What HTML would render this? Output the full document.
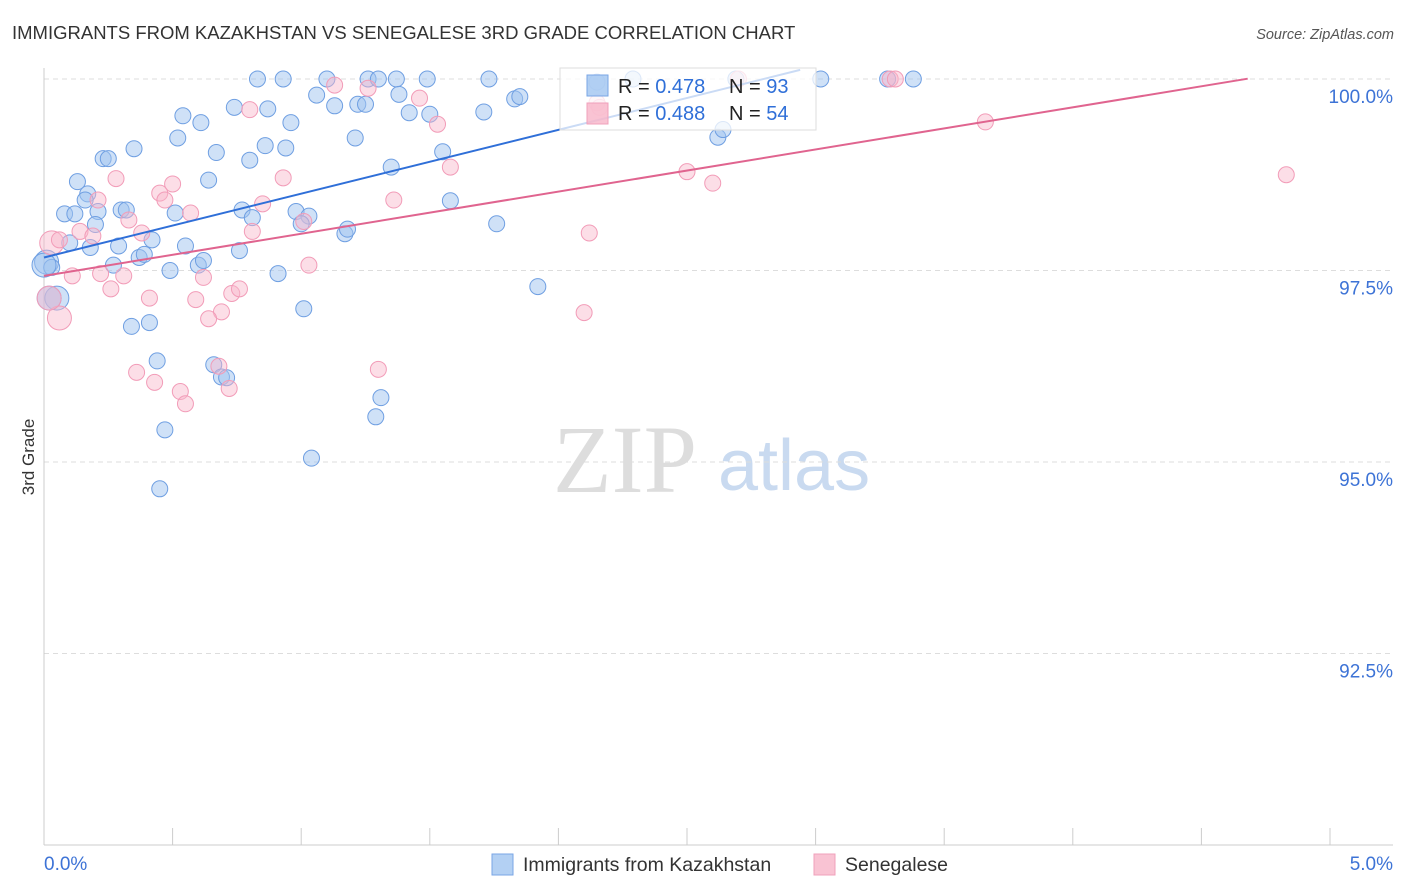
<!DOCTYPE html>
<html><head><meta charset="utf-8"><style>
body{margin:0;background:#fff;font-family:"Liberation Sans",sans-serif;}
#wrap{position:relative;width:1406px;height:892px;overflow:hidden;}
</style></head><body>
<div id="wrap">
<svg id="svg" width="1406" height="892" xmlns="http://www.w3.org/2000/svg">
<text x="12" y="39" font-size="18.5" fill="#333">IMMIGRANTS FROM KAZAKHSTAN VS SENEGALESE 3RD GRADE CORRELATION CHART</text>
<text x="1394" y="39" font-size="14.5" fill="#555" font-style="italic" text-anchor="end">Source: ZipAtlas.com</text>
<text x="34" y="457" font-size="17" fill="#333" text-anchor="middle" transform="rotate(-90 34 457)">3rd Grade</text>
<g>
<text x="553" y="492" font-size="96" font-family="Liberation Serif,serif" fill="#ddd">ZIP</text>
<text x="718" y="490" font-size="72" fill="#c9daf0">atlas</text>
</g>
<g id="grid"></g><g id="axes"></g><g id="pts"></g><g id="lines"></g>
<g>
<rect x="560" y="68" width="256" height="62" fill="rgba(255,255,255,0.75)" stroke="#ddd"/>
<rect x="587" y="75" width="21" height="21" fill="rgba(160,196,240,0.8)" stroke="#7aa6e6"/>
<rect x="587" y="103" width="21" height="21" fill="rgba(248,180,200,0.8)" stroke="#f0a0bb"/>
<text x="618" y="93" font-size="20" fill="#222">R = <tspan fill="#2f6fd8">0.478</tspan></text>
<text x="729" y="93" font-size="20" fill="#222">N = <tspan fill="#2f6fd8">93</tspan></text>
<text x="618" y="120" font-size="20" fill="#222">R = <tspan fill="#2f6fd8">0.488</tspan></text>
<text x="729" y="120" font-size="20" fill="#222">N = <tspan fill="#2f6fd8">54</tspan></text>
</g>
<g>
<rect x="492" y="854" width="21" height="21" fill="rgba(160,196,240,0.8)" stroke="#7aa6e6"/>
<text x="523" y="871" font-size="19.5" fill="#333">Immigrants from Kazakhstan</text>
<rect x="814" y="854" width="21" height="21" fill="rgba(248,180,200,0.8)" stroke="#f0a0bb"/>
<text x="845" y="871" font-size="19.5" fill="#333">Senegalese</text>
</g>
</svg>
</div>
<script>
const yTicks=[100,97.5,95,92.5];
const yTickLabels=["100.0%","97.5%","95.0%","92.5%"];
const xTicks=[0,0.5,1,1.5,2,2.5,3,3.5,4,4.5,5];
const xEndLabels=["0.0%","5.0%"];
const blueX=[0.83,0.93,1.10,1.26,1.30,1.37,1.49,1.73,2.15,2.29,2.69,3.02,3.28,3.38,1.06,1.13,1.22,1.25,1.38,1.42,1.50,1.71,1.83,1.85,0.54,0.61,0.74,0.87,0.96,0.52,0.67,0.80,0.86,0.94,1.21,1.35,1.55,1.58,1.76,1.92,2.62,2.64,0.35,0.23,0.25,0.13,0.17,0.16,0.08,0.12,0.21,0.30,0.32,0.51,0.64,0.77,0.81,0.98,1.03,1.00,1.17,1.18,0.20,0.10,0.18,0.29,0.42,0.55,0.76,0.37,0.39,0.27,0.49,0.60,0.62,0.91,0.01,0.03,0.05,0.02,0.34,0.41,1.01,0.44,0.66,0.69,0.71,1.31,1.29,0.47,1.04,0.45,0.00];
const blueY=[100,100,100,100,100,100,100,100,99.96,100,100,100,100,100,99.79,99.65,99.67,99.67,99.80,99.56,99.54,99.57,99.74,99.77,99.52,99.43,99.63,99.61,99.43,99.23,99.04,98.94,99.13,99.10,99.23,98.85,99.05,98.41,98.11,97.29,99.24,99.34,99.09,98.96,98.96,98.66,98.50,98.42,98.24,98.24,98.27,98.29,98.29,98.25,98.68,98.29,98.19,98.27,98.21,98.11,97.98,98.04,98.10,97.86,97.80,97.82,97.90,97.82,97.76,97.67,97.71,97.57,97.50,97.57,97.63,97.46,97.61,97.54,97.14,97.14,96.77,96.82,97.00,96.32,96.27,96.11,96.10,95.84,95.59,95.42,95.05,94.65,97.57];
const pinkX=[1.13,1.26,1.46,1.53,2.15,2.16,2.70,3.29,3.31,3.66,4.83,2.50,2.60,1.58,1.36,2.12,2.10,0.28,0.45,0.47,0.50,0.21,0.33,0.38,0.57,0.85,0.81,0.93,1.01,0.80,0.03,0.14,0.19,0.11,0.22,0.26,0.31,0.41,0.59,0.62,0.73,0.76,0.69,0.64,1.03,0.06,0.02,0.36,0.43,0.53,0.55,0.68,0.72,1.30,0.06];
const pinkY=[99.92,99.88,99.75,99.41,99.69,99.63,100,100,100,99.44,98.75,98.79,98.64,98.85,98.42,97.99,96.95,98.70,98.51,98.42,98.63,98.42,98.16,97.99,98.25,98.37,98.01,98.71,98.14,99.60,97.86,98.01,97.95,97.43,97.46,97.26,97.43,97.14,97.12,97.41,97.20,97.26,96.96,96.87,97.57,96.88,97.14,96.17,96.04,95.92,95.76,96.25,95.96,96.21,97.90];
const blueBig=[76,78,79,92];
const pinkBig=[30,45,46];
const trendBlue=[97.67,0.833,0,2.94];
const trendPink=[97.43,0.55,0,4.68];

const NS="http://www.w3.org/2000/svg";
const X0=44,X1=1330,Y0=79,Y1=845;
function sx(v){return X0+(v-0)/5*(X1-X0);}
function sy(v){return Y0+(100-v)/10*(Y1-Y0);}
function mk(tag,attrs,parent){const e=document.createElementNS(NS,tag);for(const k in attrs)e.setAttribute(k,attrs[k]);parent.appendChild(e);return e;}
const grid=document.getElementById('grid'),axes=document.getElementById('axes'),pts=document.getElementById('pts'),lines=document.getElementById('lines');
yTicks.forEach((t,i)=>{
 const l=mk('line',{x1:X0,x2:1393,y1:sy(t),y2:sy(t),stroke:'#ddd','stroke-dasharray':'5,4'},grid);
 
 
 const tx=mk('text',{x:1393,y:sy(t)+24,'font-size':19,fill:'#3d73d6','text-anchor':'end'},axes);
 tx.textContent=yTickLabels[i];
 
 
});
const ax=mk('line',{x1:X0,x2:1393,y1:Y1,y2:Y1,stroke:'#ccc'},axes);


const ay=mk('line',{x1:X0,x2:X0,y1:68,y2:Y1,stroke:'#ccc'},axes);


xTicks.forEach(t=>{
 const l=mk('line',{x1:sx(t),x2:sx(t),y1:828,y2:Y1,stroke:'#ccc'},axes);
 
 
});
const xl0=mk('text',{x:44,y:870,'font-size':19,fill:'#3d73d6'},axes);
xl0.textContent=xEndLabels[0];


const xl1=mk('text',{x:1393,y:870,'font-size':19,fill:'#3d73d6','text-anchor':'end'},axes);
xl1.textContent=xEndLabels[1];


function dots(xs,ys,big,fill,stroke,name){
 xs.forEach((x,i)=>{
  const c=mk('circle',{cx:sx(x),cy:sy(ys[i]),r:big.includes(i)?12:8,fill:fill,stroke:stroke,'stroke-width':1},pts);
  
  
 });
}
dots(blueX,blueY,blueBig,'rgba(160,196,240,0.5)','#6f9fe2','kazakhstan-point');
dots(pinkX,pinkY,pinkBig,'rgba(248,182,202,0.45)','#f29cb8','senegalese-point');
function trend(t,col,name){
 const l=mk('line',{x1:sx(t[2]),y1:sy(t[0]+t[1]*t[2]),x2:sx(t[3]),y2:sy(t[0]+t[1]*t[3]),stroke:col,'stroke-width':2},lines);
 
 
}
trend(trendBlue,'#2f6fd8','kazakhstan-trendline');
trend(trendPink,'#e0648f','senegalese-trendline');
</script>
</body></html>
